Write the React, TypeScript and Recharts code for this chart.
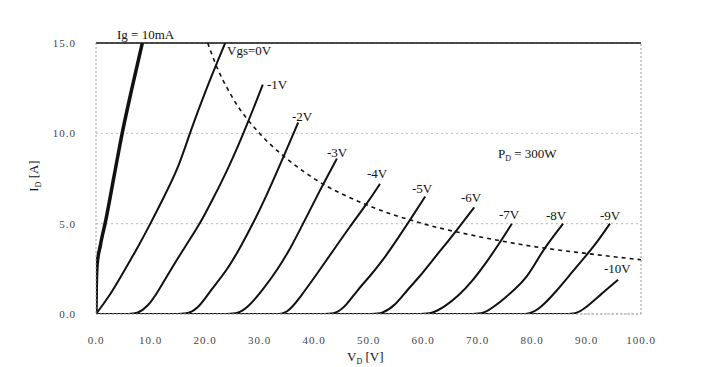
import { LineChart, Line, XAxis, YAxis, CartesianGrid, ReferenceLine } from 'recharts';

// drain voltage [V], drain current [A] pairs
const ig10mA = [[0, 0], [0.05, 1.5], [0.2, 2.7], [0.8, 3.8], [1.8, 5.2], [3.3, 7.6], [4.8, 10], [6.6, 12.5], [8.5, 15]];
const vgs0 = [[0, 0], [2.5, 1], [5, 2.3], [7.5, 3.6], [10, 5], [12.5, 6.5], [15, 8], [17.2, 10], [20, 12.3], [23.7, 15]];
const vgsM1 = [[0, 0], [4, 0], [6, 0], [7.5, 0], [9.5, 0.4], [11.5, 1.3], [13.6, 2.4], [16.5, 3.8], [19.1, 5], [21.5, 6.4], [24.2, 8], [27.5, 10.3], [30.6, 12.7]];
const vgsM2 = [[0, 0], [13, 0], [15, 0], [17, 0], [19, 0.4], [21, 1.3], [24, 2.4], [26.5, 3.7], [28.8, 5], [31.2, 6.5], [33.4, 8], [37.1, 10.6]];
const vgsM3 = [[0, 0], [22, 0], [24, 0], [26, 0], [28, 0.4], [30.5, 1.3], [33.2, 2.4], [35.8, 3.7], [38, 5], [41, 6.8], [44.2, 8.6]];
const vgsM4 = [[0, 0], [31, 0], [33, 0], [35, 0], [37.4, 0.9], [40.5, 2.2], [43.5, 3.5], [46.5, 4.8], [49.7, 6.1], [52.1, 7.2]];
const vgsM5 = [[0, 0], [40, 0], [42, 0], [44, 0], [46, 0.5], [47.9, 1.3], [50.3, 2.1], [52.7, 3], [55.2, 4.1], [57.6, 5.2], [60.4, 6.5]];
const vgsM6 = [[0, 0], [48.5, 0], [50.5, 0], [52.5, 0], [55, 0.5], [57, 1.3], [59.5, 2.1], [61.8, 3], [64, 3.8], [66.2, 4.65], [69.4, 5.9]];
const vgsM7 = [[0, 0], [57.5, 0], [59.5, 0], [61.5, 0], [64, 0.4], [66.5, 1], [69, 1.8], [71.5, 2.8], [74, 3.9], [76.3, 5]];
const vgsM8 = [[0, 0], [67, 0], [69, 0], [71, 0], [73, 0.4], [74.7, 0.8], [77, 1.4], [79.1, 2.05], [80.8, 2.9], [82.4, 3.7], [85.7, 5]];
const vgsM9 = [[0, 0], [75.5, 0], [77.5, 0], [79.5, 0], [81.5, 0.3], [84.6, 1.3], [87.3, 2.3], [90.1, 3.3], [92, 4], [94.3, 5]];
const vgsM10 = [[0, 0], [84, 0], [86, 0], [88, 0], [89.5, 0.25], [92.5, 1.05], [95.8, 1.9]];
const pd300W = [[20.5, 15], [22, 13.8], [25, 12], [30, 10], [35, 8.6], [40, 7.5], [50, 6], [60, 5], [70, 4.3], [80, 3.75], [90, 3.35], [100, 3]];

const xTicks = [0, 10, 20, 30, 40, 50, 60, 70, 80, 90, 100];
const yTicks = [0, 5, 10, 15];

const curves = [vgs0, vgsM1, vgsM2, vgsM3, vgsM4, vgsM5, vgsM6, vgsM7, vgsM8, vgsM9, vgsM10];

const toRows = (pts: number[][]) => pts.map(([v, i]) => ({ v, i }));

const font = '"Liberation Serif", "DejaVu Serif", serif';
const tickStyle = { fontFamily: font, fontSize: 11, fill: '#444', letterSpacing: 1 };
const noteStyle = { fontFamily: font, fontSize: 13, fill: '#111' };

function Notes() {
  return (
    <g style={noteStyle}>
      <text x={117} y={39}>Ig = 10mA</text>
      <text x={227} y={55}>Vgs=0V</text>
      <text x={267} y={89}>-1V</text>
      <text x={292} y={121}>-2V</text>
      <text x={327} y={157}>-3V</text>
      <text x={367} y={178}>-4V</text>
      <text x={412} y={193}>-5V</text>
      <text x={461} y={202}>-6V</text>
      <text x={499} y={219}>-7V</text>
      <text x={546} y={220}>-8V</text>
      <text x={600} y={220}>-9V</text>
      <text x={604} y={273}>-10V</text>
      <text x={498} y={158}>
        P<tspan fontSize={8} dy={3}>D</tspan><tspan dy={-3}> = 300W</tspan>
      </text>
      <text x={38} y={176} textAnchor="middle" transform="rotate(-90 38 176)">
        I<tspan fontSize={8} dy={3}>D</tspan><tspan dy={-3}> [A]</tspan>
      </text>
      <text x={347} y={361}>
        V<tspan fontSize={8} dy={3}>D</tspan><tspan dy={-3}> [V]</tspan>
      </text>
    </g>
  );
}

function App() {
  return (
    <div style={{ position: 'absolute', left: 0, top: 0, background: '#fff' }}>
      <LineChart width={711} height={367} margin={{ top: 43, right: 70, left: 0, bottom: 0 }}>
        <CartesianGrid vertical={false} stroke="#bbb" strokeDasharray="2 3" />
        <XAxis
          dataKey="v"
          type="number"
          domain={[0, 100]}
          ticks={xTicks}
          tickFormatter={(t: number) => t.toFixed(1)}
          tickLine={false}
          axisLine={{ stroke: '#999', strokeDasharray: '2 2' }}
          tick={tickStyle}
          tickMargin={16}
          height={53}
          allowDataOverflow
        />
        <YAxis
          dataKey="i"
          type="number"
          domain={[0, 15]}
          ticks={yTicks}
          tickFormatter={(t: number) => t.toFixed(1)}
          tickLine={false}
          axisLine={{ stroke: '#999', strokeDasharray: '2 2' }}
          tick={tickStyle}
          tickMargin={14}
          width={96}
          allowDataOverflow
        />
        <ReferenceLine y={15} stroke="#111" strokeWidth={1.5} />
        <ReferenceLine x={100} stroke="#999" strokeDasharray="2 2" />
        <Line
          data={toRows(pd300W)}
          dataKey="i"
          type="monotone"
          stroke="#111"
          strokeWidth={1.6}
          strokeDasharray="4 4"
          dot={false}
          isAnimationActive={false}
        />
        {curves.map((c, k) => (
          <Line
            key={k}
            data={toRows(c)}
            dataKey="i"
            type="basis"
            stroke="#111"
            strokeWidth={2}
            dot={false}
            isAnimationActive={false}
          />
        ))}
        <Line
          data={toRows(ig10mA)}
          dataKey="i"
          type="monotone"
          stroke="#111"
          strokeWidth={3.5}
          dot={false}
          isAnimationActive={false}
        />
        <Notes />
      </LineChart>
    </div>
  );
}

export default App;
